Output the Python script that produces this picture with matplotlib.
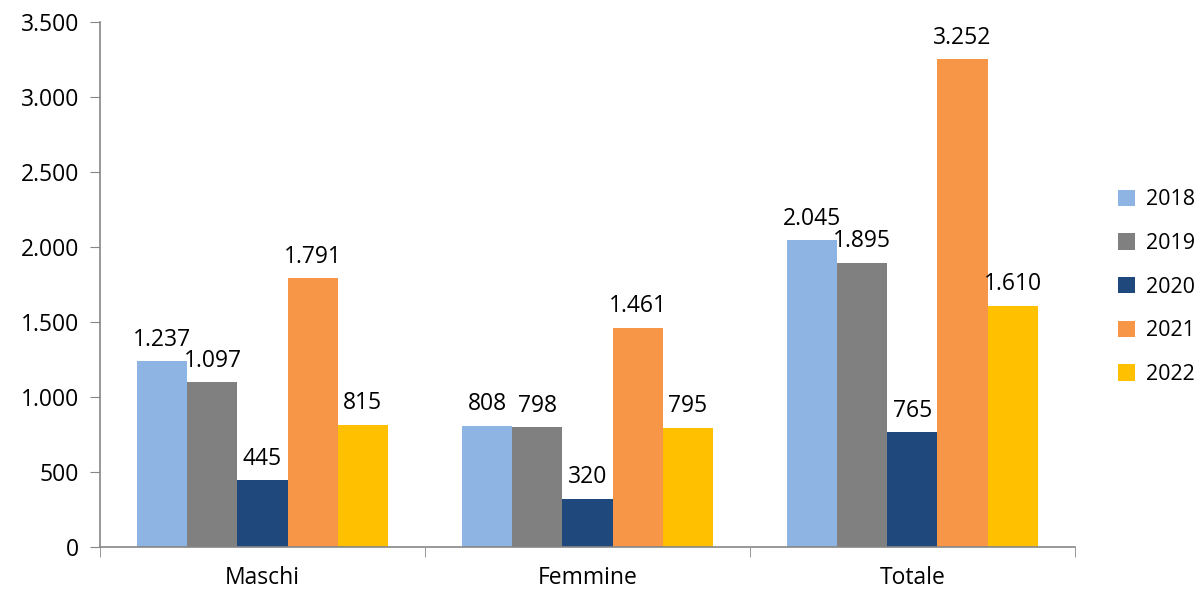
import matplotlib.pyplot as plt
import numpy as np
from matplotlib.patches import Patch

categories = ["Maschi", "Femmine", "Totale"]
years = ["2018", "2019", "2020", "2021", "2022"]
values = {
    "2018": [1237, 808, 2045],
    "2019": [1097, 798, 1895],
    "2020": [445, 320, 765],
    "2021": [1791, 1461, 3252],
    "2022": [815, 795, 1610],
}
colors = ["#8EB4E3", "#808080", "#1F497D", "#F79646", "#FFC000"]
yticks = [0, 500, 1000, 1500, 2000, 2500, 3000, 3500]


def fmt(v):
    return f"{v:,}".replace(",", ".")


plt.rcParams["font.family"] = ["Open Sans", "DejaVu Sans"]
FS = 16.5

fig = plt.figure(figsize=(12.02, 5.89), dpi=100)
ax = fig.add_axes([0.0832, 0.0713, 0.8111, 0.8913])

x = np.arange(len(categories))
w = 0.77 / len(years)
for i, (yr, col) in enumerate(zip(years, colors)):
    pos = x - 0.385 + w * (i + 0.5)
    bars = ax.bar(pos, values[yr], width=w, color=col, zorder=2)
    for b, v in zip(bars, values[yr]):
        ax.annotate(fmt(v), (b.get_x() + b.get_width() / 2, b.get_height()),
                    xytext=(0, 7), textcoords="offset points",
                    ha="center", va="bottom", fontsize=FS, color="black")

ax.set_xlim(-0.5, len(categories) - 0.5)
ax.set_ylim(0, 3500)
ax.set_yticks(yticks)
ax.set_yticklabels([fmt(t) for t in yticks], fontsize=FS)
ax.set_xticks(x)
ax.set_xticklabels(categories, fontsize=FS)
ax.tick_params(axis="x", length=0, pad=14)
ax.set_xticks(np.arange(-0.5, len(categories)), minor=True)
ax.tick_params(axis="x", which="minor", length=7, color="#868686", direction="out")
ax.tick_params(axis="y", length=7, color="#868686", direction="out", pad=8)

for s in ["top", "right"]:
    ax.spines[s].set_visible(False)
for s in ["left", "bottom"]:
    ax.spines[s].set_color("#868686")
    ax.spines[s].set_linewidth(1.2)

handles = [Patch(facecolor=c, label=y) for y, c in zip(years, colors)]
ax.legend(handles=handles, loc="center left", bbox_to_anchor=(1.033, 0.495),
          frameon=False, fontsize=15.5, handlelength=0.8, handleheight=0.8,
          labelspacing=1.05, handletextpad=0.5, borderpad=0)

fig.savefig("out.png", dpi=100)
